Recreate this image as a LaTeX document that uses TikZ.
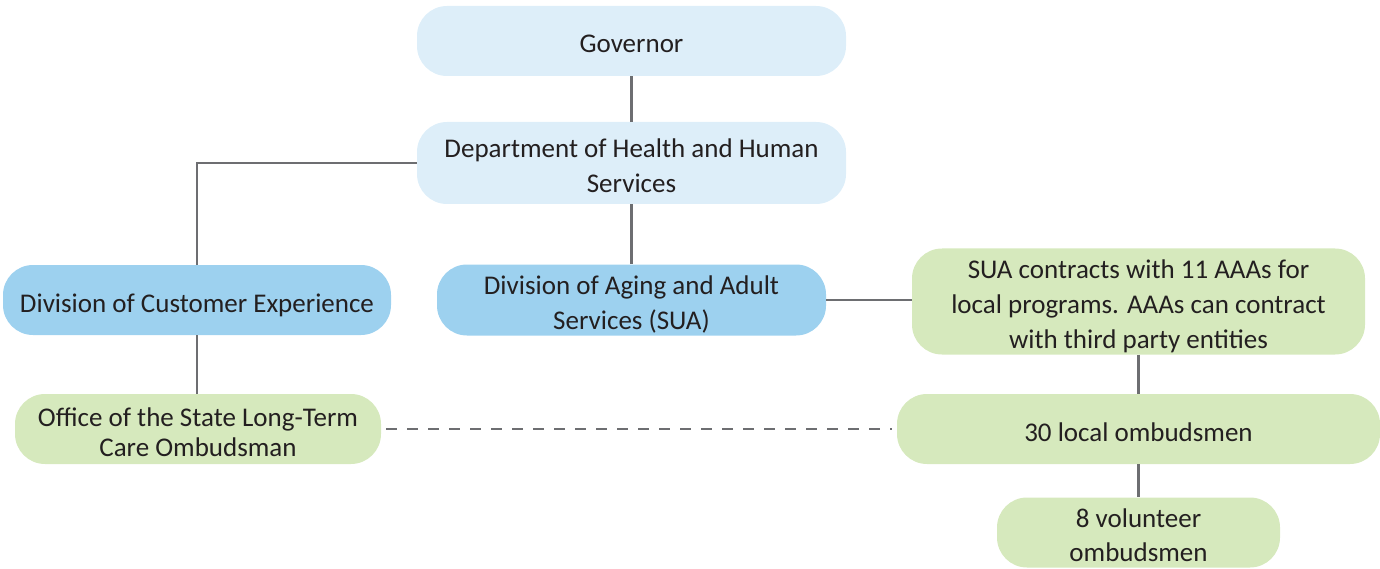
\documentclass[tikz,border=0pt]{standalone}
\usepackage{fontspec}
\setmainfont{Carlito}
\definecolor{lblue}{HTML}{DDEEF9}
\definecolor{mblue}{HTML}{9DD1EF}
\definecolor{lgreen}{HTML}{D6E9BD}
\definecolor{linegray}{HTML}{6D6E71}
\definecolor{txt}{HTML}{231F20}
\newcommand\topst{\rule{0pt}{30pt}}
\newcommand\botst{\rule[-6pt]{0pt}{0pt}}
\begin{document}
\begin{tikzpicture}[x=1pt,y=-1pt,
  box/.style={rounded corners=30pt,draw=none,inner sep=0pt,align=center,
    text=txt,font=\fontsize{27}{35}\selectfont},
  conn/.style={draw=linegray,line width=2.6pt},
  dconn/.style={draw=linegray,line width=2.6pt,dash pattern=on 11pt off 10pt}]
\useasboundingbox (0,0) rectangle (1380,569);
\node[box,fill=lblue,minimum width=429pt,minimum height=70pt] (gov) at (631.5,41) {\topst Governor\botst};
\node[box,fill=lblue,minimum width=429pt,minimum height=82pt] (dhhs) at (631.5,163) {\topst Department of Health and Human\\Services\botst};
\node[box,fill=mblue,minimum width=388pt,minimum height=70pt] (dce) at (197,300) {\topst Division of Customer Experience\botst};
\node[box,fill=mblue,minimum width=389pt,minimum height=70pt] (daa) at (631.5,300) {\topst Division of Aging and Adult\\Services (SUA)\botst};
\node[box,fill=lgreen,minimum width=453pt,minimum height=103pt] (sua) at (1138.5,301.5) {\topst SUA contracts with 11 AAAs for\\local programs. AAAs can contract\\with third party entities\botst};
\node[box,fill=lgreen,minimum width=366pt,minimum height=70pt,font=\fontsize{27}{30}\selectfont] (office) at (198,429) {\topst Office of the State Long-Term\\Care Ombudsman\botst};
\node[box,fill=lgreen,minimum width=483pt,minimum height=70pt] (local) at (1138.5,429) {\topst 30 local ombudsmen\botst};
\node[box,fill=lgreen,minimum width=283pt,minimum height=69pt,font=\fontsize{27}{34}\selectfont] (vol) at (1138.5,532.5) {\topst 8 volunteer\\ombudsmen\botst};
\draw[conn] (gov.south) -- (dhhs.north);
\draw[conn] (dhhs.south) -- (daa.north);
\draw[conn] (dhhs.west) -| (dce.north);
\draw[conn] (dce.south) -- (dce.south |- office.north);
\draw[conn] (daa.east) -- (sua.west |- daa.east);
\draw[conn] (sua.south) -- (local.north);
\draw[conn] (local.south) -- (vol.north);
\draw[dconn] ([xshift=5pt]office.east) -- ([xshift=-5pt]local.west);
\end{tikzpicture}
\end{document}
